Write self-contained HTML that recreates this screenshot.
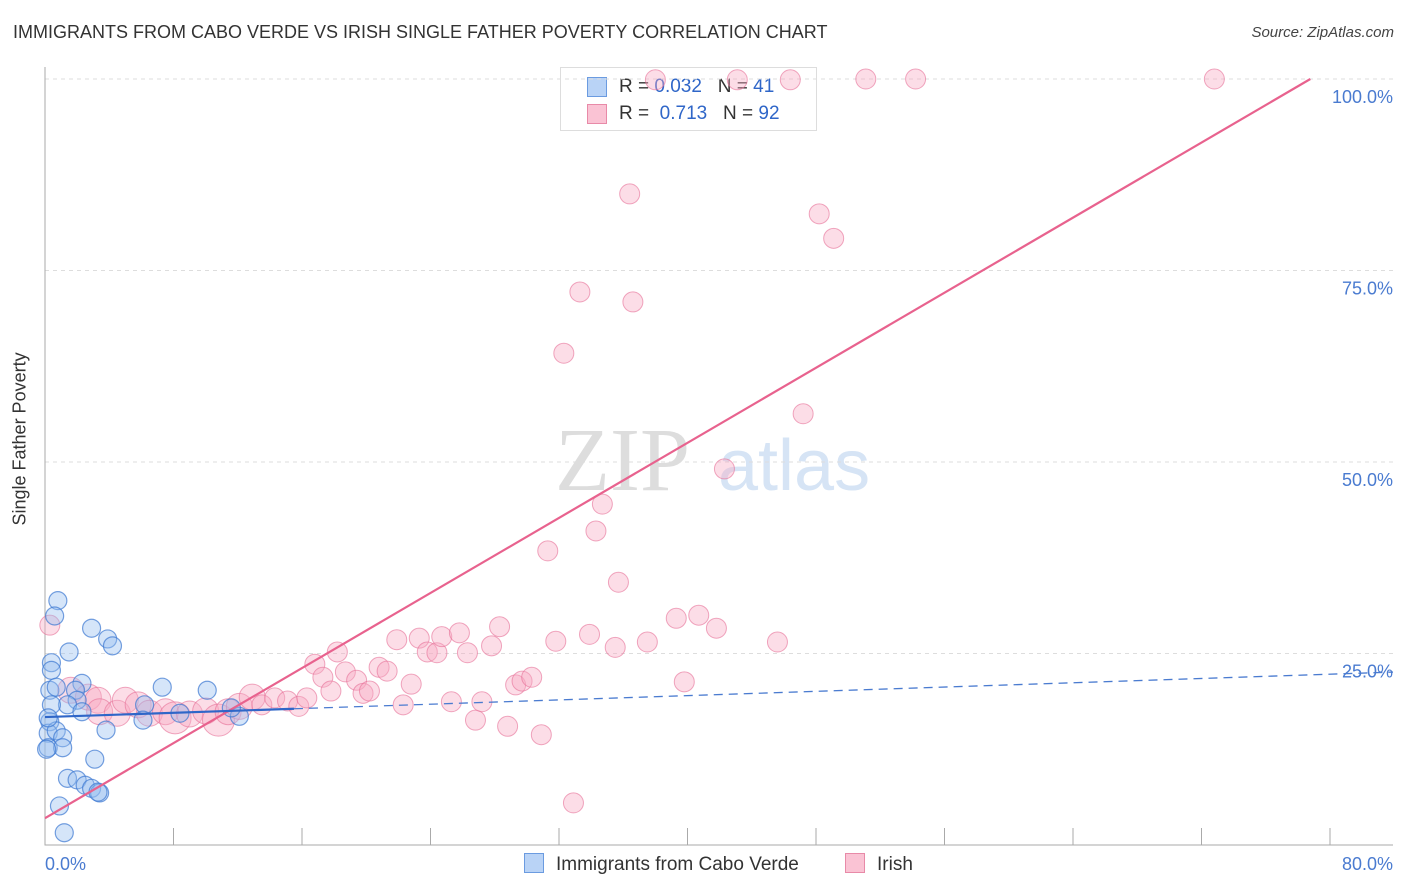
<!DOCTYPE html>
<html><head><meta charset="utf-8">
<style>
body{margin:0;background:#fff;font-family:"Liberation Sans",sans-serif;}
#wrap{position:relative;width:1406px;height:892px;overflow:hidden;}
.t{position:absolute;white-space:nowrap;}
</style></head><body>
<div id="wrap">
<div class="t" style="left:13px;top:22px;font-size:18px;color:#333;">IMMIGRANTS FROM CABO VERDE VS IRISH SINGLE FATHER POVERTY CORRELATION CHART</div>
<div class="t" style="right:12px;top:24px;font-size:15px;color:#444;font-style:italic;">Source: ZipAtlas.com</div>
<div class="t" style="left:-50px;top:445px;font-size:18px;color:#333;transform:rotate(-90deg);transform-origin:center;width:140px;text-align:center;">Single Father Poverty</div>
<div class="t" style="left:560px;top:67px;width:255px;height:62px;border:1px solid #ddd;background:#fff;font-size:19px;">
 <div style="position:absolute;left:26px;top:9px;width:18px;height:18px;background:#b9d3f6;border:1px solid #6b9be0;"></div>
 <div class="t" style="left:58px;top:8px;color:#333;">R = <span style="color:#2f66c8">0.032</span>&nbsp;&nbsp;&nbsp;N = <span style="color:#2f66c8">41</span></div>
 <div style="position:absolute;left:26px;top:36px;width:18px;height:18px;background:#fac3d4;border:1px solid #e88aa8;"></div>
 <div class="t" style="left:58px;top:35px;color:#333;">R = &nbsp;<span style="color:#2f66c8">0.713</span>&nbsp;&nbsp;&nbsp;N = <span style="color:#2f66c8">92</span></div>
</div>
<svg id="svg" width="1406" height="892" style="position:absolute;left:0;top:0"></svg>
</div>
<script>
const xTicks=[0,8,16,24,32,40,48,56,64,72,80];
const yTicks=[25,50,75,100];
const yTickLabels=["25.0%","50.0%","75.0%","100.0%"];
const blueX=[0.8,0.6,2.9,3.9,4.2,1.5,0.4,0.4,2.3,0.3,0.7,1.9,2.0,7.3,10.1,1.4,0.4,6.2,0.3,0.2,0.7,1.1,0.2,1.1,3.8,6.1,3.1,1.4,2.0,2.5,2.9,3.4,3.3,0.9,1.2,8.4,12.1,11.6,0.2,2.3,0.1];
const blueY=[31.9,29.9,28.3,26.9,26.0,25.2,23.8,22.8,21.1,20.2,20.6,20.2,18.9,20.6,20.2,18.3,18.3,18.3,16.1,14.6,14.9,14.0,12.7,12.7,15.0,16.3,11.2,8.7,8.5,7.8,7.4,6.8,6.9,5.1,1.6,17.2,16.8,17.9,16.6,17.4,12.5];
const pinkX=[0.3,1.6,2.7,3.3,3.4,4.5,5.0,5.8,6.5,7.5,8.1,9.0,10.0,10.8,11.4,12.1,12.9,13.5,14.3,15.1,15.8,16.3,16.8,18.2,17.3,17.8,18.7,19.4,19.8,20.2,20.8,21.3,21.9,22.3,22.8,23.3,23.8,24.4,24.7,25.8,26.3,28.3,27.8,25.3,26.8,27.2,28.8,29.3,29.7,30.3,30.9,32.9,31.8,33.9,35.5,37.5,39.3,40.7,41.8,39.8,45.6,35.7,34.3,34.7,31.3,42.3,47.2,32.3,33.3,36.6,36.4,48.2,49.1,38.0,43.1,46.4,51.1,54.2,72.8];
const pinkY=[28.7,20.2,19.3,18.9,17.4,17.2,18.9,18.3,17.2,17.4,16.6,17.1,17.5,16.3,17.4,18.1,19.3,18.3,19.2,18.8,18.1,19.2,23.6,25.2,21.9,20.1,22.6,21.5,19.8,20.1,23.2,22.7,26.8,18.3,21.0,27.0,25.2,25.1,27.2,27.7,25.1,28.5,26.0,18.7,16.3,18.7,15.5,20.9,21.4,21.9,14.4,5.5,26.6,27.5,25.8,26.5,29.6,30.0,28.3,21.3,26.5,34.3,41.0,44.5,38.4,49.1,56.3,64.2,72.2,70.9,85.0,82.4,79.2,99.9,99.9,99.9,100,100,100];
const pinkBig=[0,1,1,1,1,1,1,1,1,1,2,1,1,2,1,1,1,0,0,0,0,0,0,0,0,0,0,0,0,0,0,0,0,0,0,0,0,0,0,0,0,0,0,0,0,0,0,0,0,0,0,0,0,0,0,0,0,0,0,0,0,0,0,0,0,0,0,0,0,0,0,0,0,0,0,0,0,0,0];
const pinkTrend=[3.5,1.225];
const blueTrend=[16.7,0.070];
const X0=45,X1=1330,Y0=845,Y100=79;
const sx=v=>X0+(X1-X0)*v/80, sy=v=>Y0-(Y0-Y100)*v/100;
const svg=document.getElementById('svg');const NS='http://www.w3.org/2000/svg';
function mk(tag,attrs,parent){const e=document.createElementNS(NS,tag);for(const k in attrs)e.setAttribute(k,attrs[k]);(parent||svg).appendChild(e);return e;}
let wm=mk('text',{x:555,y:490,'font-size':90,'font-family':'Liberation Serif,serif',fill:'#ddd'});wm.textContent='ZIP';


let wm2=mk('text',{x:718,y:490,'font-size':72,'font-family':'Liberation Sans,sans-serif',fill:'#d6e4f5'});wm2.textContent='atlas';


yTicks.forEach((v,i)=>{
 const g=mk('line',{x1:X0,x2:1393,y1:sy(v),y2:sy(v),stroke:'#ddd','stroke-dasharray':'4,4'});
 
 
 const t=mk('text',{x:1393,y:sy(v)+24,'text-anchor':'end','font-size':18,fill:'#4a7bd0'});t.textContent=yTickLabels[i];
 
 
});
const ax=mk('path',{d:`M${X0} 67V${Y0}H1393`,stroke:'#aaa',fill:'none'});


xTicks.forEach(v=>{if(v===0)return;const l=mk('line',{x1:sx(v),x2:sx(v),y1:828,y2:Y0,stroke:'#aaa'});
 
 });
let xl=mk('text',{x:45,y:870,'font-size':18,fill:'#4a7bd0'});xl.textContent='0.0%';


let xr=mk('text',{x:1393,y:870,'text-anchor':'end','font-size':18,fill:'#4a7bd0'});xr.textContent='80.0%';


pinkX.forEach((v,i)=>{const r=[10,13,16][pinkBig[i]];
 const c=mk('circle',{cx:sx(v),cy:sy(pinkY[i]),r:r,fill:'rgba(248,170,195,0.4)',stroke:'rgba(230,110,150,0.6)','stroke-width':1});
 
 });
blueX.forEach((v,i)=>{
 const c=mk('circle',{cx:sx(v),cy:sy(blueY[i]),r:9,fill:'rgba(150,190,240,0.4)',stroke:'rgba(60,120,210,0.7)','stroke-width':1.2});
 
 });
const pe=(100-pinkTrend[0])/pinkTrend[1];
const pl=mk('line',{x1:sx(0),y1:sy(pinkTrend[0]),x2:sx(pe),y2:sy(100),stroke:'#e8628e','stroke-width':2.2});


const bl=mk('line',{x1:sx(0),y1:sy(blueTrend[0]),x2:sx(15.5),y2:sy(blueTrend[0]+blueTrend[1]*15.5),stroke:'#2f66c8','stroke-width':2.2});


const xe=(1393-X0)/(X1-X0)*80;
const bd=mk('line',{x1:sx(15.5),y1:sy(blueTrend[0]+blueTrend[1]*15.5),x2:1393,y2:sy(blueTrend[0]+blueTrend[1]*xe),stroke:'#4a7bd0','stroke-width':1.3,'stroke-dasharray':'9,6'});


</script>
<div class="t" style="left:524px;top:853px;font-size:19px;color:#333;"><span style="display:inline-block;width:18px;height:18px;background:#b9d3f6;border:1px solid #6b9be0;vertical-align:-3px;margin-right:12px"></span>Immigrants from Cabo Verde</div>
<div class="t" style="left:845px;top:853px;font-size:19px;color:#333;"><span style="display:inline-block;width:18px;height:18px;background:#fac3d4;border:1px solid #e88aa8;vertical-align:-3px;margin-right:12px"></span>Irish</div>
</body></html>
